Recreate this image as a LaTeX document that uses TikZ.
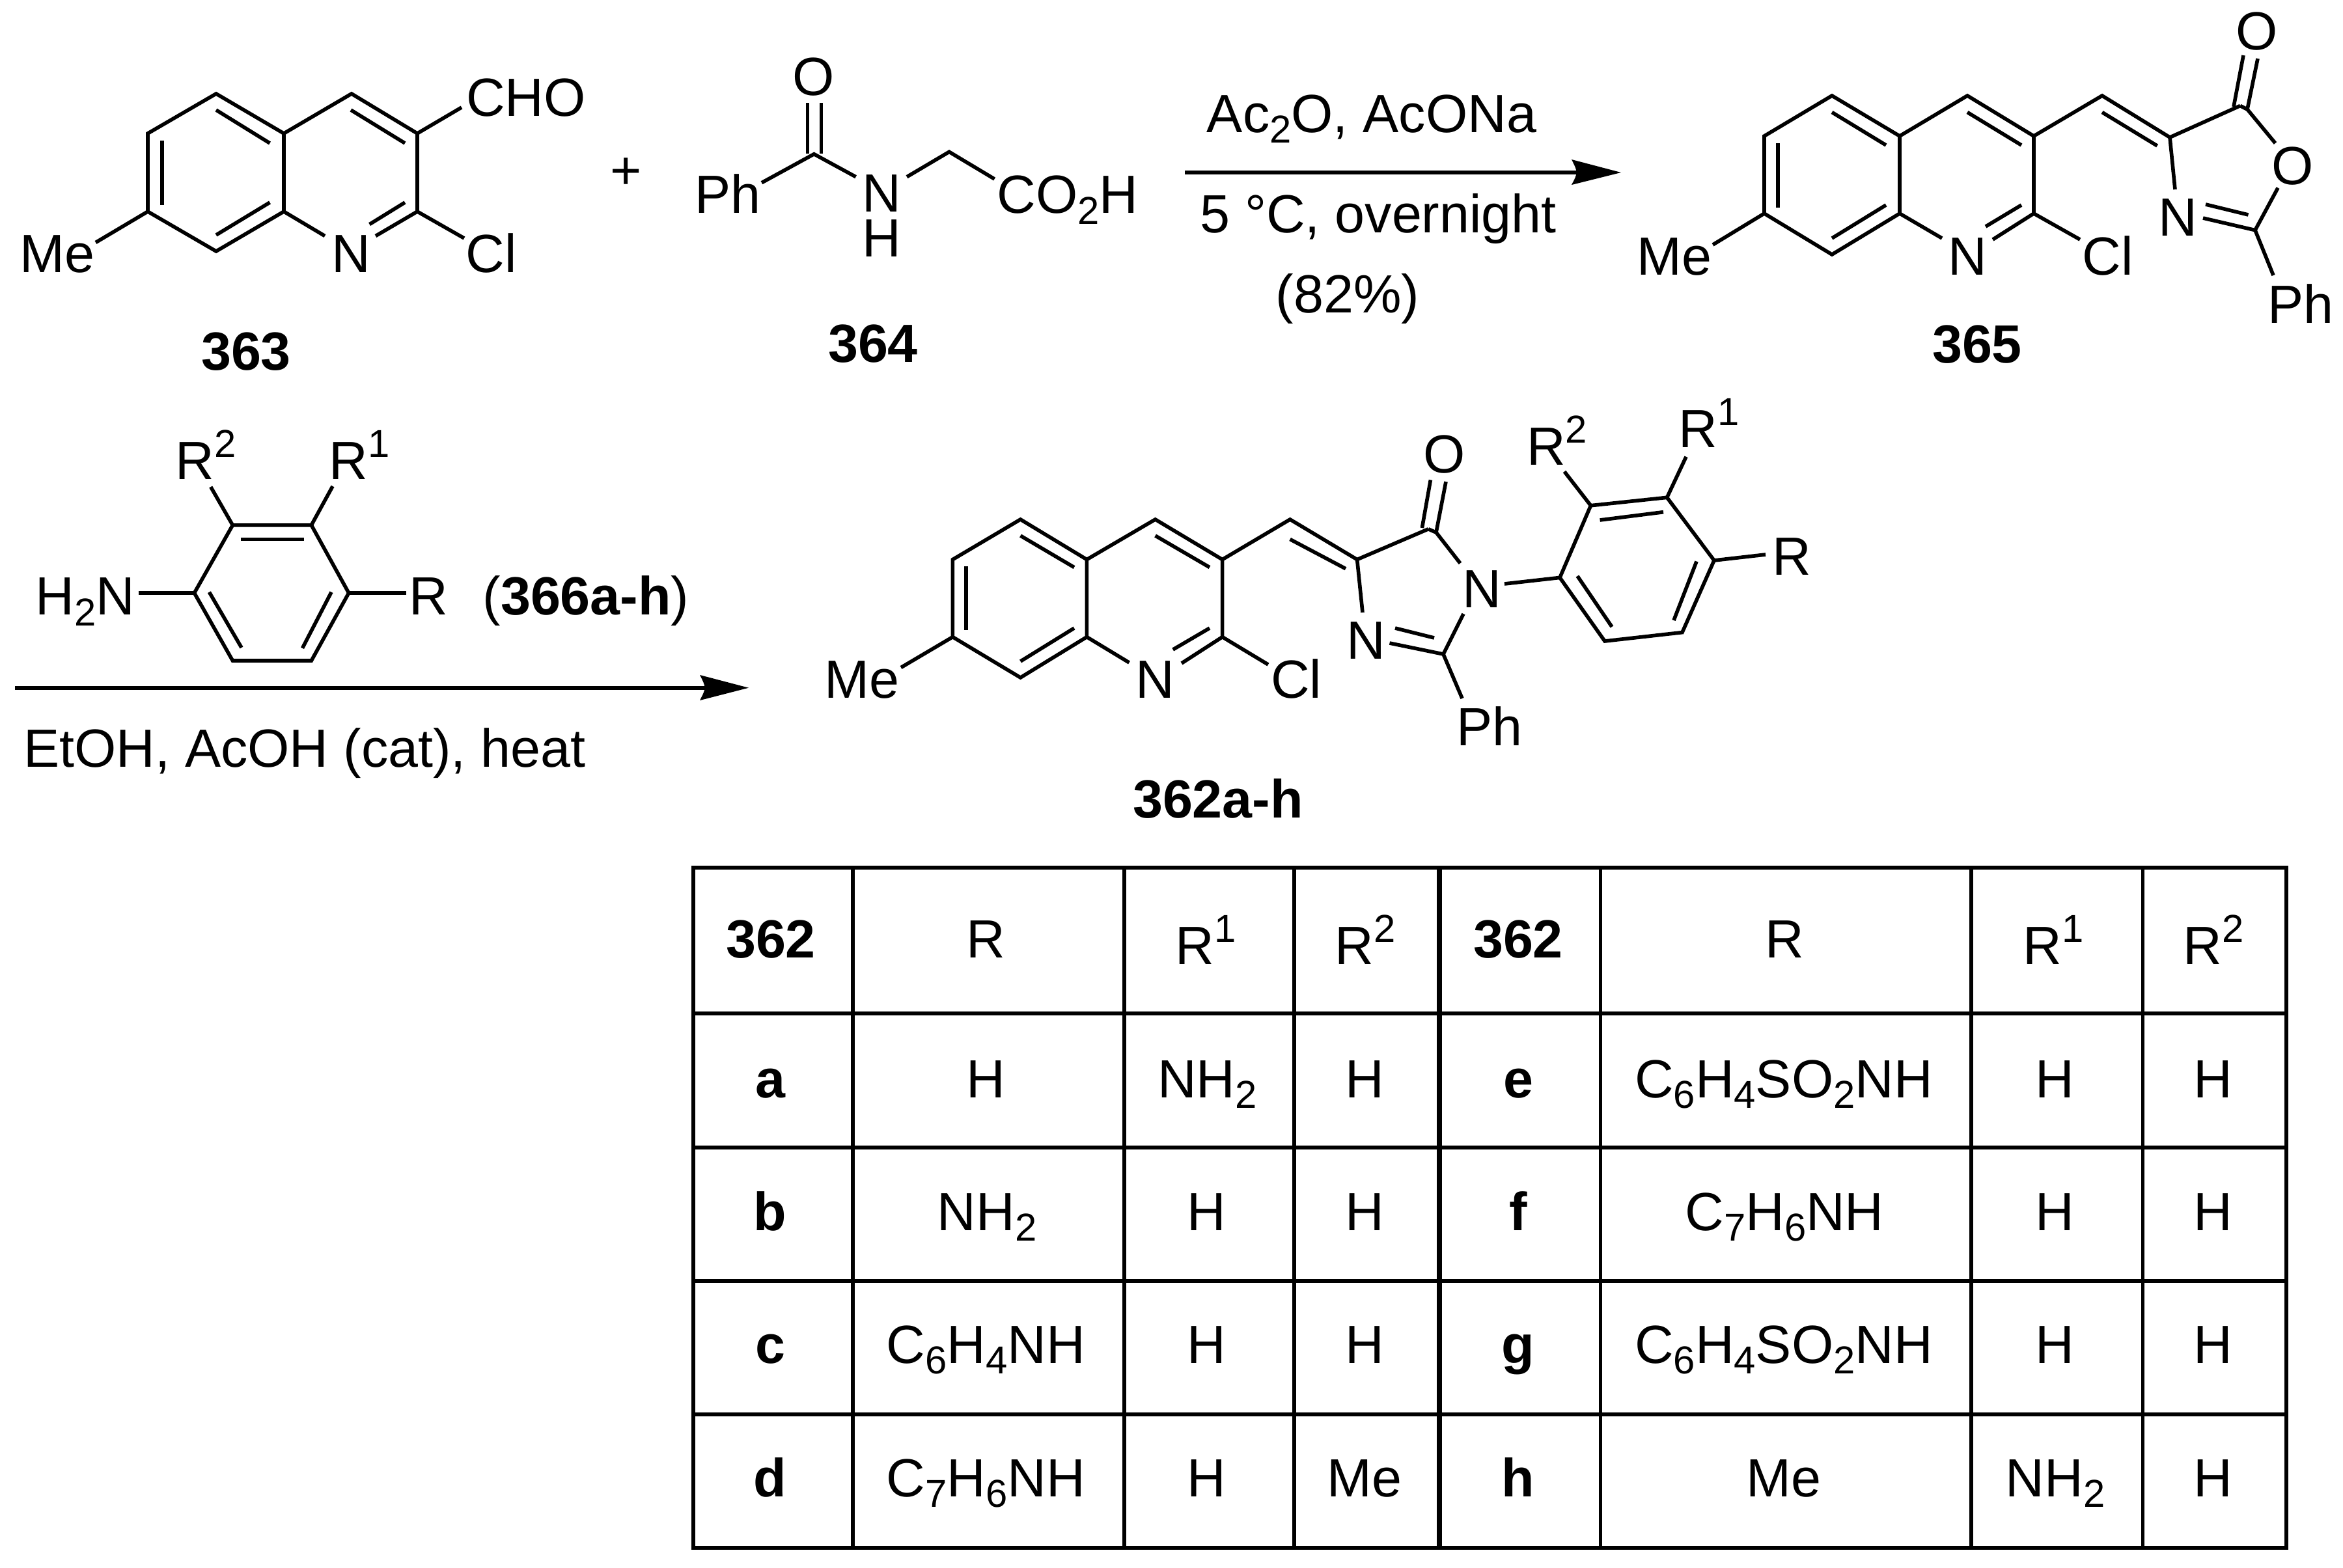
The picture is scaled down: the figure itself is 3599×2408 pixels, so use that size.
\documentclass[tikz,border=0pt]{standalone}
\usepackage{fontspec}
\setmainfont{Liberation Sans}
\newcommand{\Sb}[1]{\raisebox{-0.2em}{\fontsize{17}{17}\selectfont #1}}
\newcommand{\Sp}[1]{\raisebox{0.41em}{\fontsize{17}{17}\selectfont #1}}
\tikzset{
  lab/.style={anchor=base,inner sep=0pt,outer sep=0pt,font=\fontsize{23.5}{26}\selectfont},
  blab/.style={lab,font=\fontsize{23.5}{26}\selectfont\bfseries},
  bond/.style={line width=1.6pt,line join=miter,line cap=butt,black},
  rxn/.style={line width=1.75pt,black},
  tip/.style={fill=black,draw=none},
  grid line/.style={line width=1.45pt,line cap=rect,black},
  mid line/.style={line width=2.2pt,line cap=butt,black}
}
\begin{document}
\begin{tikzpicture}[x=0.01cm,y=-0.01cm]
\useasboundingbox (0,0) rectangle (3599,2408);

% ---------- 363
\coordinate (a1) at (227,205); \coordinate (a2) at (332,144); \coordinate (a3) at (436,205);
\coordinate (a4) at (436,325); \coordinate (a5) at (332,386); \coordinate (a6) at (227,325);
\coordinate (a7) at (540,144); \coordinate (a8) at (641,205); \coordinate (a9) at (641,325);
\draw[bond] (a1) -- (a2) -- (a3) -- (a4) -- (a5) -- (a6) -- cycle;
\draw[bond] (a3) -- (a7) -- (a8) -- (a9);
\draw[bond] (332,169) -- (414.5,220); \draw[bond] (249,216) -- (249,315); \draw[bond] (332,361) -- (414.5,311);
\draw[bond] (539,169) -- (622,220); \draw[bond] (567.6,344.6) -- (622,311);
\draw[bond] (a9) -- (577,362.5); \draw[bond] (a4) -- (499,362.5);
\draw[bond] (a9) -- (713,366); \draw[bond] (a8) -- (709,165); \draw[bond] (a6) -- (147,372.5);
\node[lab] (a_cho) at (808,178.6) {CHO};
\node[lab] (a_me) at (88,418) {Me};
\node[lab] (a_n) at (539,418) {N};
\node[lab] (a_cl) at (755,418) {Cl};
\node[blab] (n363) at (378,568) {363};
\node[lab] (plus) at (962,290) {+};

% ---------- 364
\coordinate (b1) at (1250.4,236.7); \coordinate (b2) at (1458,233.3);
\draw[bond] (1240.5,158) -- (1240.5,236); \draw[bond] (1261.4,158) -- (1261.4,236);
\draw[bond] (1170,280.7) -- (b1) -- (1314.6,271.7);
\draw[bond] (1393,271.7) -- (b2) -- (1527.6,275);
\node[lab] (b_o) at (1250,146.5) {O};
\node[lab] (b_ph) at (1118,327.7) {Ph};
\node[lab,anchor=north,align=center,font=\fontsize{23.5}{19.7}\selectfont] (b_nh) at (1354,268.5) {N\\H};
\node[lab] (b_co) at (1640,327.7) {CO\Sb{2}H};
\node[blab] (n364) at (1341,556.7) {364};

% ---------- first arrow
\coordinate (r1s) at (1820,265); \coordinate (r1e) at (2430,265);
\coordinate (r1t) at (2490,265); \coordinate (r1a) at (2414,245); \coordinate (r1b) at (2414,284); \coordinate (r1n) at (2424,265);
\draw[rxn] (r1s) -- (r1e);
\fill[tip] (r1t) -- (r1a) .. controls (r1n) and (r1n) .. (r1b) -- cycle;
\node[lab] (r1_top) at (2107,203.3) {Ac\Sb{2}O, AcONa};
\node[lab] (r1_mid) at (2117,357) {5 °C, overnight};
\node[lab] (r1_yld) at (2070,480.7) {(82\%)};

% ---------- 365
\coordinate (c1) at (2710,209); \coordinate (c2) at (2814,147); \coordinate (c3) at (2918,209);
\coordinate (c4) at (2918,328); \coordinate (c5) at (2814,391); \coordinate (c6) at (2710,328);
\coordinate (c7) at (3022,147); \coordinate (c8) at (3124,209); \coordinate (c9) at (3124,328);
\coordinate (c10) at (3229,147); \coordinate (c11) at (3333,211); \coordinate (c12) at (3441,162.5);
\coordinate (c13) at (3464,353.6);
\draw[bond] (c1) -- (c2) -- (c3) -- (c4) -- (c5) -- (c6) -- cycle;
\draw[bond] (c3) -- (c7) -- (c8) -- (c9);
\draw[bond] (c8) -- (c10) -- (c11) -- (c12);
\draw[bond] (2814,172.5) -- (2897,223); \draw[bond] (2731,220) -- (2731,318.6); \draw[bond] (2814,366) -- (2897,315);
\draw[bond] (3022,172.5) -- (3105,223); \draw[bond] (3050,348) -- (3105,315);
\draw[bond] (3229,172.5) -- (3313.6,224);
\draw[bond] (c9) -- (3061,368); \draw[bond] (c4) -- (2983,366); \draw[bond] (c9) -- (3195,368); \draw[bond] (c6) -- (2631,376);
\draw[bond] (3431,164) -- (3446,85); \draw[bond] (3452,168) -- (3468,90);
\draw[bond] (c12) -- (3452,168) -- (3495,220);
\draw[bond] (c11) -- (3341,291);
\draw[bond] (3499,288.6) -- (c13) -- (3384,335); \draw[bond] (3453.5,330) -- (3388,314);
\draw[bond] (c13) -- (3492,423);
\node[lab] (c_me) at (2572,422.5) {Me};
\node[lab] (c_n) at (3022.5,422.5) {N};
\node[lab] (c_cl) at (3237.5,422.5) {Cl};
\node[lab] (c_o1) at (3467,76) {O};
\node[lab] (c_o2) at (3522,283) {O};
\node[lab] (c_n2) at (3345,362.5) {N};
\node[lab] (c_ph) at (3534,496) {Ph};
\node[blab] (n365) at (3037,557) {365};

% ---------- 366
\coordinate (d1) at (357.4,806.8); \coordinate (d2) at (478.3,806.8); \coordinate (d3) at (535.7,911);
\coordinate (d4) at (478.3,1015); \coordinate (d5) at (357.4,1015); \coordinate (d6) at (298.5,911);
\draw[bond] (d1) -- (d2) -- (d3) -- (d4) -- (d5) -- (d6) -- cycle;
\draw[bond] (369.6,828.6) -- (466.8,828.6); \draw[bond] (321.4,909.7) -- (371,995); \draw[bond] (509,909.7) -- (464.5,995.8);
\draw[bond] (212.7,911) -- (d6); \draw[bond] (d3) -- (623.7,911);
\draw[bond] (d1) -- (323.7,748); \draw[bond] (d2) -- (511,747);
\node[lab] (d_nh) at (131,944.5) {H\Sb{2}N};
\node[lab] (d_r) at (658.5,944.5) {R};
\node[lab] (d_r2) at (316,736) {R\Sp{2}};
\node[lab] (d_r1) at (552,736) {R\Sp{1}};
\node[lab] (d_lbl) at (900,944.5) {(\textbf{366a-h})};

% ---------- second arrow
\coordinate (r2s) at (23,1056.7); \coordinate (r2e) at (1090,1056.7);
\coordinate (r2t) at (1150,1056.7); \coordinate (r2a) at (1075,1037); \coordinate (r2b) at (1075,1076); \coordinate (r2n) at (1085,1056.7);
\draw[rxn] (r2s) -- (r2e);
\fill[tip] (r2t) -- (r2a) .. controls (r2n) and (r2n) .. (r2b) -- cycle;
\node[lab] (r2_low) at (468,1178.7) {EtOH, AcOH (cat), heat};

% ---------- 362
\coordinate (e1) at (1463.4,859.6); \coordinate (e2) at (1567.5,798); \coordinate (e3) at (1669.4,859.6);
\coordinate (e4) at (1669.4,978.6); \coordinate (e5) at (1567.5,1041); \coordinate (e6) at (1463.4,978.6);
\coordinate (e7) at (1774.6,798); \coordinate (e8) at (1877.6,859.6); \coordinate (e9) at (1877.6,978.6);
\coordinate (e10) at (1981.6,798); \coordinate (e11) at (2084.6,859.6); \coordinate (e12) at (2194,812.8);
\coordinate (e13) at (2217,1005);
\coordinate (f1) at (2396,887.4); \coordinate (f2) at (2443.5,776.7); \coordinate (f3) at (2560.6,764.3);
\coordinate (f4) at (2633,861); \coordinate (f5) at (2584,971.6); \coordinate (f6) at (2465,985);
\draw[bond] (e1) -- (e2) -- (e3) -- (e4) -- (e5) -- (e6) -- cycle;
\draw[bond] (e3) -- (e7) -- (e8) -- (e9);
\draw[bond] (e8) -- (e10) -- (e11) -- (e12);
\draw[bond] (1567.5,823) -- (1650,871.6); \draw[bond] (1484,870) -- (1484,968); \draw[bond] (1567.5,1016) -- (1650,965);
\draw[bond] (1774.6,823) -- (1858,871.6); \draw[bond] (1801.7,998) -- (1858,965);
\draw[bond] (1981.6,828.5) -- (2067,873.7);
\draw[bond] (e9) -- (1815,1019); \draw[bond] (e4) -- (1734.5,1018); \draw[bond] (e9) -- (1948,1021); \draw[bond] (e6) -- (1384,1025.5);
\draw[bond] (2184.4,811) -- (2197.4,737.3); \draw[bond] (2206,818) -- (2221,740);
\draw[bond] (e12) -- (2206,818) -- (2243,865.4);
\draw[bond] (e11) -- (2093,941);
\draw[bond] (2248,943) -- (e13) -- (2134.5,988); \draw[bond] (2203,980) -- (2143,965);
\draw[bond] (e13) -- (2246,1073);
\draw[bond] (2311,897) -- (f1);
\draw[bond] (f1) -- (f2) -- (f3) -- (f4) -- (f5) -- (f6) -- cycle;
\draw[bond] (2457.6,799) -- (2555,786.7); \draw[bond] (2606,862.5) -- (2571,953); \draw[bond] (2423,885) -- (2476,963);
\draw[bond] (f2) -- (2403,724.5); \draw[bond] (f3) -- (2590,701.7); \draw[bond] (f4) -- (2712,852);
\node[lab] (e_me) at (1323.6,1072) {Me};
\node[lab] (e_n) at (1774,1072) {N};
\node[lab] (e_cl) at (1991,1072) {Cl};
\node[lab] (e_o) at (2219,726) {O};
\node[lab] (e_n3) at (2276,933) {N};
\node[lab] (e_n1) at (2098,1012) {N};
\node[lab] (e_ph) at (2288,1145.7) {Ph};
\node[lab] (f_r2) at (2391.5,714.5) {R\Sp{2}};
\node[lab] (f_r1) at (2625,687.6) {R\Sp{1}};
\node[lab] (f_r) at (2752,883) {R};
\node[blab] (n362) at (1871,1256) {362a-h};

% ---------- table grid
\foreach \yy in {1333,1557,1763,1968,2173,2378}
  \draw[grid line] (1065,\yy) -- (3512,\yy);
\foreach \xx in {1065,1310,1727,1988,2458.6,3028,3291.6,3512}
  \draw[grid line] (\xx,1333) -- (\xx,2378);
\draw[mid line] (2211,1333) -- (2211,2378);

% ---------- table text, left half
\node[blab] (t00) at (1184,1471) {362};
\node[lab] (t01) at (1514.5,1471) {R};
\node[lab] (t02) at (1852,1481.6) {R\Sp{1}};
\node[lab] (t03) at (2097,1481.6) {R\Sp{2}};
\node[blab] (t10) at (1183,1686) {a};
\node[lab] (t11) at (1514.5,1686) {H};
\node[lab] (t12) at (1854.5,1686) {NH\Sb{2}};
\node[lab] (t13) at (2096,1686) {H};
\node[blab] (t20) at (1183,1890) {b};
\node[lab] (t21) at (1516,1890) {NH\Sb{2}};
\node[lab] (t22) at (1853.5,1890) {H};
\node[lab] (t23) at (2096,1890) {H};
\node[blab] (t30) at (1183,2094) {c};
\node[lab] (t31) at (1514.5,2094) {C\Sb{6}H\Sb{4}NH};
\node[lab] (t32) at (1853.5,2094) {H};
\node[lab] (t33) at (2096,2094) {H};
\node[blab] (t40) at (1183,2299) {d};
\node[lab] (t41) at (1514.5,2299) {C\Sb{7}H\Sb{6}NH};
\node[lab] (t42) at (1853.5,2299) {H};
\node[lab] (t43) at (2096,2299) {Me};

% ---------- table text, right half
\node[blab] (u00) at (2332,1471) {362};
\node[lab] (u01) at (2741,1471) {R};
\node[lab] (u02) at (3154,1481.6) {R\Sp{1}};
\node[lab] (u03) at (3400,1481.6) {R\Sp{2}};
\node[blab] (u10) at (2332,1686) {e};
\node[lab] (u11) at (2740,1686) {C\Sb{6}H\Sb{4}SO\Sb{2}NH};
\node[lab] (u12) at (3156,1686) {H};
\node[lab] (u13) at (3399,1686) {H};
\node[blab] (u20) at (2332,1890) {f};
\node[lab] (u21) at (2741,1890) {C\Sb{7}H\Sb{6}NH};
\node[lab] (u22) at (3156,1890) {H};
\node[lab] (u23) at (3399,1890) {H};
\node[blab] (u30) at (2332,2094) {g};
\node[lab] (u31) at (2740,2094) {C\Sb{6}H\Sb{4}SO\Sb{2}NH};
\node[lab] (u32) at (3156,2094) {H};
\node[lab] (u33) at (3399,2094) {H};
\node[blab] (u40) at (2332,2299) {h};
\node[lab] (u41) at (2740,2299) {Me};
\node[lab] (u42) at (3157,2299) {NH\Sb{2}};
\node[lab] (u43) at (3399,2299) {H};
\end{tikzpicture}
\end{document}
